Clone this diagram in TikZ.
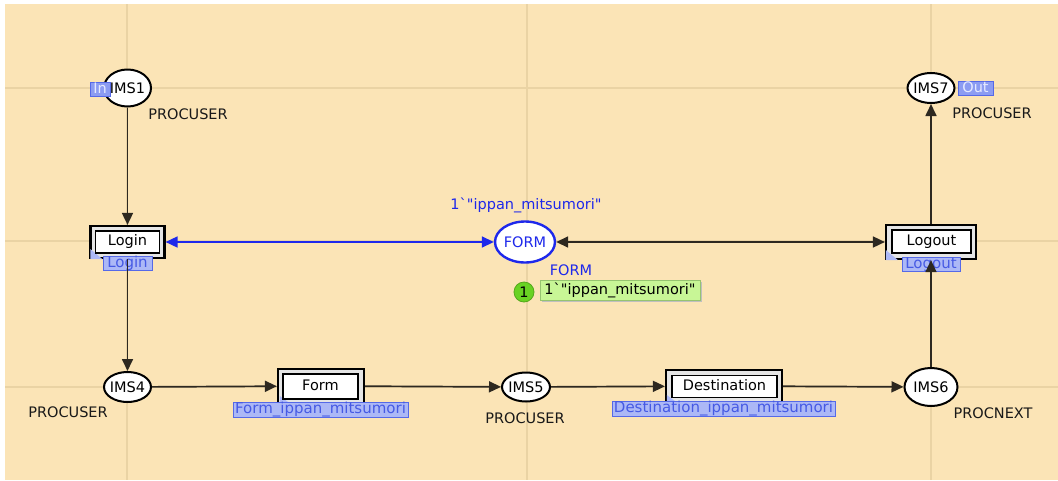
\documentclass[tikz,border=0pt]{standalone}
\usepackage{fontspec}
\setmainfont{DejaVu Sans}[Ligatures=TeXOff]
\usetikzlibrary{arrows.meta,shapes.geometric,calc}

\definecolor{paper}{RGB}{251,228,182}
\definecolor{gridtan}{RGB}{234,211,164}
\definecolor{arcgray}{RGB}{45,40,32}
\definecolor{cpnblue}{RGB}{30,40,235}
\definecolor{tagfill}{RGB}{172,184,246}
\definecolor{tagline}{RGB}{85,105,232}
\definecolor{tagtext}{RGB}{70,90,228}
\definecolor{portfill}{RGB}{140,156,242}
\definecolor{porttext}{RGB}{230,234,255}
\definecolor{tokgreen}{RGB}{105,210,35}
\definecolor{markfill}{RGB}{200,246,150}
\definecolor{markline}{RGB}{150,196,112}

\tikzset{
  every node/.style={font=\fontsize{14.5}{17}\selectfont},
  place/.style={ellipse, draw=black, line width=2pt, fill=white,
    inner xsep=-1pt, inner ysep=0pt},
  transbox/.style={draw=black, line width=2.2pt, fill=black!10, inner sep=0pt},
  transin/.style={draw=black, line width=1.6pt, fill=white, inner sep=0pt,
    text height=10.5pt, text depth=3pt},
  subtag/.style={draw=tagline, fill=tagfill, line width=1pt, text=tagtext,
    inner sep=0pt, text height=11pt, text depth=3pt,
    font=\fontsize{15}{17}\selectfont},
  porttag/.style={draw=tagline, fill=portfill, line width=1pt, text=porttext,
    inner sep=0pt, text height=10.5pt, text depth=2pt},
  pointer/.style={fill=tagfill},
  colset/.style={text=black!90, inner sep=0pt},
  arc/.style={draw=arcgray, line width=1.7pt, -{Triangle[length=12pt,width=11pt]}},
  arcboth/.style={draw=arcgray, line width=1.7pt,
    {Triangle[length=12pt,width=11pt]}-{Triangle[length=12pt,width=11pt]}},
  bluearc/.style={draw=cpnblue, line width=1.7pt,
    {Triangle[length=12pt,width=11pt]}-{Triangle[length=12pt,width=11pt]}},
}

\begin{document}
\begin{tikzpicture}[x=1pt,y=-1pt]
% page and canvas
\useasboundingbox (0,0) rectangle (1058,480);
\fill[white] (0,0) rectangle (1058,480);
\fill[paper] (5,4) rectangle (1058,480);
% guide lines of the canvas
\begin{scope}[draw=gridtan, line width=2pt]
  \draw (127,4) -- (127,480);
  \draw (527,4) -- (527,480);
  \draw (931,4) -- (931,480);
  \draw (5,88) -- (1058,88);
  \draw (5,241) -- (1058,241);
  \draw (5,387) -- (1058,387);
\end{scope}

% places
\node[place, minimum width=47pt, minimum height=37pt] (ims1) at (127.5,88) {IMS1};
\node[place, minimum width=45pt, minimum height=30pt] (ims7) at (931,88) {IMS7};
\node[place, minimum width=45pt, minimum height=30pt] (ims4) at (127.5,387) {IMS4};
\node[place, minimum width=48pt, minimum height=29pt] (ims5) at (526,387) {IMS5};
\node[place, minimum width=53pt, minimum height=38pt] (ims6) at (931,387) {IMS6};
\node[place, draw=cpnblue, line width=2.4pt, text=cpnblue,
      minimum width=60pt, minimum height=41pt] (formpl) at (525,242) {FORM};

% substitution transitions
\node[transbox, minimum width=74pt, minimum height=32pt] (login) at (127.5,242) {};
\fill[pointer] ($(login.south west)+(1,-10)$) -- ($(login.south west)+(13,0)$) -- ($(login.south west)+(1,0)$) -- cycle;
\node[transin, minimum width=64pt, minimum height=22pt] (loginin) at (127.5,242) {Login};

\node[transbox, minimum width=90pt, minimum height=34pt] (logout) at (931,242) {};
\fill[pointer] ($(logout.south west)+(1,-10)$) -- ($(logout.south west)+(13,0)$) -- ($(logout.south west)+(1,0)$) -- cycle;
\node[transin, minimum width=79pt, minimum height=23pt] (logoutin) at (931.5,241.5) {Logout};

\node[transbox, minimum width=86pt, minimum height=34pt] (form) at (321,386) {};
\fill[pointer] ($(form.south west)+(3,-8)$) -- ($(form.south west)+(14,0)$) -- ($(form.south west)+(3,0)$) -- cycle;
\node[transin, minimum width=75pt, minimum height=25pt] (formin) at (320.5,386.5) {Form};

\node[transbox, minimum width=116pt, minimum height=32pt] (dest) at (724,386) {};
\fill[pointer] ($(dest.south west)+(2,-8)$) -- ($(dest.south west)+(13,0)$) -- ($(dest.south west)+(2,0)$) -- cycle;
\node[transin, minimum width=105pt, minimum height=22pt] (destin) at (724.5,386.5) {Destination};

% port and subpage tags
\node[porttag, minimum width=20pt, minimum height=14pt] (intag) at (100,89) {In};
\node[porttag, minimum width=35pt, minimum height=14pt] (outtag) at (975.5,88) {Out};
\node[subtag, minimum width=49pt, minimum height=14pt] (logintag) at (127.5,263) {Login};
\node[subtag, minimum width=58pt, minimum height=12pt] (logouttag) at (931,264) {Logout};
\node[subtag, minimum width=175pt, minimum height=15pt] (formtag) at (320.5,409.5) {Form\_ippan\_mitsumori};
\node[subtag, minimum width=223pt, minimum height=15pt] (desttag) at (723.5,408.5) {Destination\_ippan\_mitsumori};

% arcs, drawn over the tags
\draw[arc] (ims1) -- (login);
\draw[arc] (login) -- (ims4);
\draw[arc] (ims4) -- (form);
\draw[arc] (form) -- (ims5);
\draw[arc] (ims5) -- (dest);
\draw[arc] (dest) -- (ims6);
\draw[arc] (ims6) -- (logout);
\draw[arc] (logout) -- (ims7);
\draw[bluearc] (login) -- (formpl);
\draw[arcboth] (formpl) -- (logout);

% colour sets
\node[colset] (cs1) at (188,114) {PROCUSER};
\node[colset] (cs7) at (992,113) {PROCUSER};
\node[colset] (cs4) at (68,412) {PROCUSER};
\node[colset] (cs5) at (525,418) {PROCUSER};
\node[colset] (cs6) at (993,413) {PROCNEXT};
\node[colset, text=cpnblue] (csform) at (571,270) {FORM};

% initial marking and current marking
\node[inner sep=0pt, text=cpnblue] (initmark) at (526,205) {1`"ippan\_mitsumori"};
\fill[black!25] (542,282) rectangle (702,302);
\node[draw=markline, fill=markfill, line width=1pt, minimum width=160pt,
      minimum height=20pt, inner sep=0pt] (curmark) at (620,290) {1`"ippan\_mitsumori"};
\node[circle, draw=tokgreen!80!black, line width=0.8pt, fill=tokgreen,
      minimum size=20pt, inner sep=0pt] (token) at (524,292) {1};
\end{tikzpicture}
\end{document}
